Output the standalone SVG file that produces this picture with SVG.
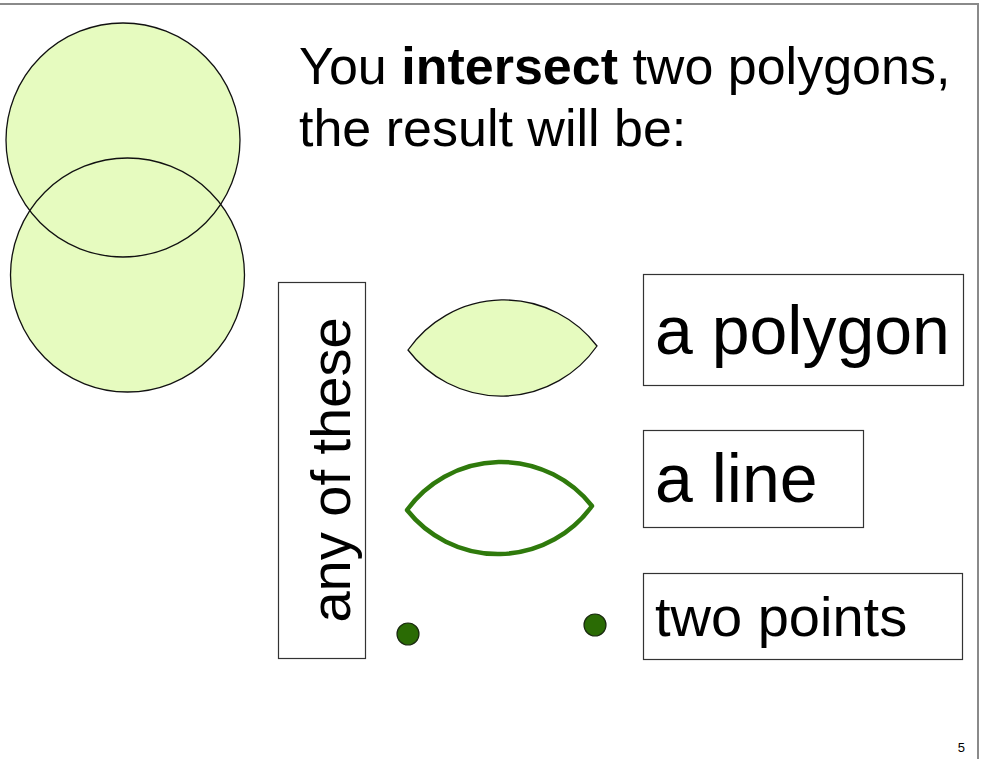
<svg xmlns="http://www.w3.org/2000/svg" width="982" height="759" viewBox="0 0 982 759">
  <style>
    .txt { font-family: "Liberation Sans", Arial, sans-serif; fill: #000; }
    .box { fill: #fff; stroke: #333; stroke-width: 1.2; }
    .poly { fill: #e6fbbf; stroke: #111; stroke-width: 1.3; }
    .outline { fill: none; stroke: #111; stroke-width: 1.3; }
    .frame { stroke: #8a8a8a; stroke-width: 2; fill: none; }
    .dot { fill: #2a6b04; stroke: #1a2a10; stroke-width: 1.2; }
  </style>
  <rect width="982" height="759" fill="#fff"/>

  <!-- slide frame -->
  <path class="frame" d="M0 4 H978 V759"/>

  <!-- two overlapping input polygons: fills first, then both outlines on top -->
  <g id="input-polygons">
    <circle cx="123" cy="140" r="117" fill="#e6fbbf"/>
    <circle cx="127.5" cy="275" r="117" fill="#e6fbbf"/>
    <circle class="outline" cx="123" cy="140" r="117"/>
    <circle class="outline" cx="127.5" cy="275" r="117"/>
  </g>

  <!-- heading -->
  <g id="title">
    <text class="txt" x="299" y="84" font-size="52">You <tspan font-weight="bold">intersect</tspan> two polygons,</text>
    <text class="txt" x="299" y="146" font-size="52">the result will be:</text>
  </g>

  <!-- vertical label box -->
  <g id="any-of-these">
    <rect class="box" x="278.5" y="282.5" width="87" height="376"/>
    <text class="txt" font-size="56" text-anchor="middle" transform="translate(350 470) rotate(-90)">any of these</text>
  </g>

  <!-- result: polygon -->
  <g id="result-polygon">
    <path class="poly" d="M408 350 A117 117 0 0 1 597 346 A117 117 0 0 1 408 350 Z"/>
  </g>
  <g id="label-polygon">
    <rect class="box" x="643.5" y="274.5" width="320" height="111"/>
    <text class="txt" x="655" y="354" font-size="68">a polygon</text>
  </g>

  <!-- result: line -->
  <g id="result-line">
    <path d="M407 510 A116 116 0 0 1 592 506 A116 116 0 0 1 407 510 Z" fill="none" stroke="#2f7a0c" stroke-width="4.5" stroke-linejoin="round"/>
  </g>
  <g id="label-line">
    <rect class="box" x="643.5" y="430.5" width="220" height="97"/>
    <text class="txt" x="655" y="502" font-size="68">a line</text>
  </g>

  <!-- result: two points -->
  <g id="result-points">
    <circle class="dot" cx="408" cy="634" r="11"/>
    <circle class="dot" cx="595" cy="625" r="11"/>
  </g>
  <g id="label-points">
    <rect class="box" x="643.5" y="573.5" width="319" height="86"/>
    <text class="txt" x="655" y="636" font-size="56">two points</text>
  </g>

  <!-- page number -->
  <text class="txt" x="965" y="752" font-size="13" text-anchor="end">5</text>
</svg>
